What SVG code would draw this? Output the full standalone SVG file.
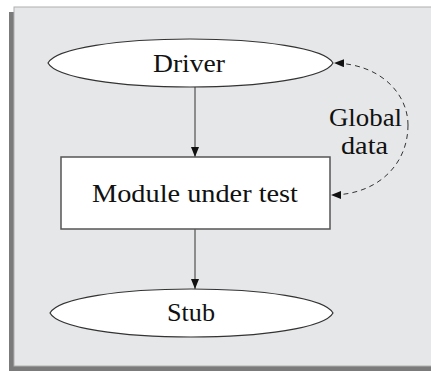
<svg xmlns="http://www.w3.org/2000/svg" width="431" height="372" viewBox="0 0 431 372">
<defs>
<style>
.lbl{font-family:"Liberation Serif","DejaVu Serif",serif;font-size:25px;fill:#111;text-anchor:middle}
.node{fill:#fff;stroke:#333;stroke-width:1.2}
.edge{fill:none;stroke:#333;stroke-width:1}
.dash{fill:none;stroke:#333;stroke-width:1;stroke-dasharray:5 4}
</style>
<marker id="arr" viewBox="0 0 10 8" refX="10" refY="4" markerWidth="10" markerHeight="8" markerUnits="userSpaceOnUse" orient="auto">
<path d="M0,0 L10,4 L0,8 Z" fill="#111"/>
</marker>
</defs>
<g id="frame">
<rect x="9" y="12" width="422" height="359" fill="#7b7b7b"/>
<rect x="14" y="7" width="418" height="359" fill="#e6e7e8" stroke="#b0b0b0" stroke-width="1"/>
</g>
<g id="connectors">
<line class="edge" x1="195" y1="87" x2="195" y2="157" marker-end="url(#arr)"/>
<line class="edge" x1="195" y1="229" x2="195" y2="289" marker-end="url(#arr)"/>
<path class="dash" d="M408,125 C408,95 382,64 334,63" marker-end="url(#arr)"/>
<path class="dash" d="M408,125 C408,165 377,195 331,195" marker-end="url(#arr)"/>
</g>
<g id="driver">
<path class="node" d="M48,63 C56,48 120,39 190,39 C260,39 325,48 333,63 C325,78 260,87 190,87 C120,87 56,78 48,63 Z"/>
<text class="lbl" x="189" y="72" textLength="72" lengthAdjust="spacingAndGlyphs">Driver</text>
</g>
<g id="module">
<rect x="61" y="157" width="269" height="72" fill="#fff" stroke="#555" stroke-width="1.5"/>
<text class="lbl" x="195" y="202" textLength="206" lengthAdjust="spacingAndGlyphs">Module under test</text>
</g>
<g id="stub">
<path class="node" d="M50,313 C58,298 122,289 191,289 C261,289 325,298 333,313 C325,328 261,337 191,337 C122,337 58,328 50,313 Z"/>
<text class="lbl" x="191" y="321" textLength="48" lengthAdjust="spacingAndGlyphs">Stub</text>
</g>
<g id="global-data-label">
<text class="lbl" x="365.5" y="126" textLength="73" lengthAdjust="spacingAndGlyphs">Global</text>
<text class="lbl" x="364.5" y="154" textLength="47" lengthAdjust="spacingAndGlyphs">data</text>
</g>
</svg>
